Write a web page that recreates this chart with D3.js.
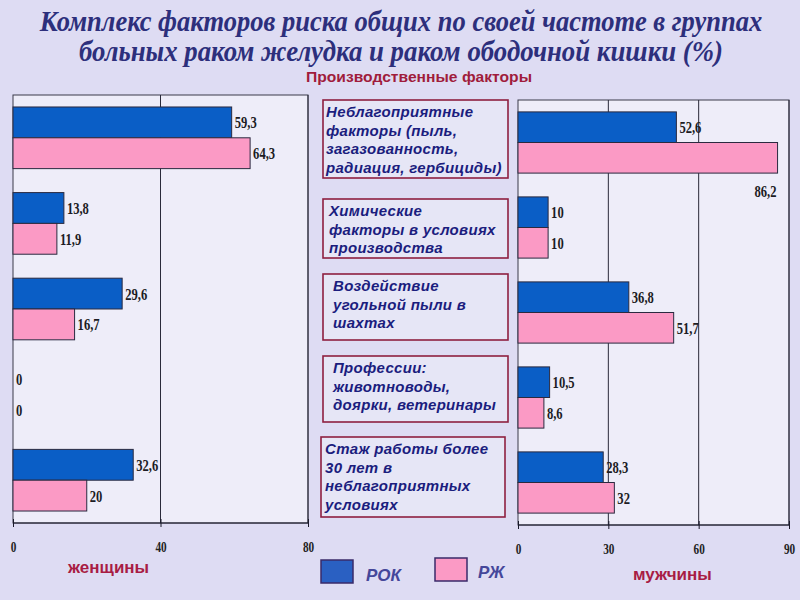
<!DOCTYPE html>
<html>
<head>
<meta charset="utf-8">
<script src="https://cdn.jsdelivr.net/npm/d3@7/dist/d3.min.js"></script>
<style>
  html, body { margin: 0; padding: 0; background: #dedcf3; }
  svg { display: block; }
</style>
</head>
<body>
<svg id="chart" width="800" height="600"></svg>
<script>
// ---------- data ----------
const categories = [
  "Неблагоприятные факторы (пыль, загазованность, радиация, гербициды)",
  "Химические факторы в условиях производства",
  "Воздействие угольной пыли в шахтах",
  "Профессии: животноводы, доярки, ветеринары",
  "Стаж работы более 30 лет в неблагоприятных условиях"
];
const categoryLines = [
  ["Неблагоприятные", "факторы (пыль,", "загазованность,", "радиация, гербициды)"],
  ["Химические", "факторы в условиях", "производства"],
  ["Воздействие", "угольной пыли в", "шахтах"],
  ["Профессии:", "животноводы,", "доярки, ветеринары"],
  ["Стаж работы более", "30 лет в", "неблагоприятных", "условиях"]
];
const seriesNames = ["РОК", "РЖ"];
const womenROK = [59.3, 13.8, 29.6, 0, 32.6];
const womenRZh = [64.3, 11.9, 16.7, 0, 20];
const menROK   = [52.6, 10, 36.8, 10.5, 28.3];
const menRZh   = [86.2, 10, 51.7, 8.6, 32];
const womenTicks = [0, 40, 80];
const menTicks = [0, 30, 60, 90];
const titleLines = [
  "Комплекс факторов риска общих по своей частоте в группах",
  "больных раком желудка и раком ободочной кишки (%)"
];
const subtitle = "Производственные факторы";
const womenLabel = "женщины";
const menLabel = "мужчины";

// ---------- style ----------
const colors = { "РОК": "#0a5ec6", "РЖ": "#fb9ac5" };
const legendColors = { "РОК": "#2a60c2", "РЖ": "#fb9ac5" };
const fmt = v => String(v).replace(".", ",");

const svg = d3.select("#chart");

// title (slightly condensed, taller glyphs via vertical scale)
svg.append("g").selectAll("text").data(titleLines).join("text")
  .attr("transform", (d, i) => `translate(401,${31 + i * 30}) scale(${i === 0 ? 0.965 : 0.975},1.08)`)
  .attr("text-anchor", "middle")
  .attr("font-family", "Liberation Serif, Times New Roman, serif")
  .attr("font-weight", "bold").attr("font-style", "italic")
  .attr("font-size", 27.5).attr("fill", "#2d2f7c")
  .text(d => d);

svg.append("text")
  .attr("x", 419).attr("y", 82).attr("text-anchor", "middle")
  .attr("font-family", "Liberation Sans Narrow, Arial Narrow, Liberation Sans, sans-serif")
  .attr("font-size", 15).attr("font-weight", 600).attr("fill", "#a01c3c")
  .attr("textLength", 226).attr("lengthAdjust", "spacingAndGlyphs")
  .text(subtitle);

// ---------- panels ----------
function panel(cfg) {
  const g = svg.append("g");
  const x = d3.scaleLinear().domain([0, cfg.ticks[cfg.ticks.length - 1]]).range([cfg.x0, cfg.x1]);
  const y = d3.scaleBand().domain(categories).range([cfg.y0, cfg.y1]).paddingInner(0.28).paddingOuter(0.14);
  const y2 = d3.scaleBand().domain(seriesNames).range([0, y.bandwidth()]);

  g.append("rect").attr("x", cfg.x0).attr("y", cfg.y0)
    .attr("width", cfg.x1 - cfg.x0).attr("height", cfg.y1 - cfg.y0)
    .attr("fill", "#eeedf9").attr("stroke", "#3a3a4a").attr("stroke-width", 1);

  // gridlines
  g.append("g").selectAll("line").data(cfg.ticks.slice(1)).join("line")
    .attr("x1", d => x(d)).attr("x2", d => x(d))
    .attr("y1", cfg.y0).attr("y2", cfg.y1)
    .attr("stroke", "#2a2a3a").attr("stroke-width", 1);

  // axis
  const axis = d3.axisBottom(x).tickValues(cfg.ticks).tickSize(6).tickSizeOuter(0).tickFormat(d => d);
  const ax = g.append("g").attr("transform", `translate(0,${cfg.y1})`).call(axis);
  ax.select(".domain").attr("stroke", "#1a1a2a").attr("stroke-width", 1.2).attr("d", `M${cfg.x0},0H${cfg.x1}`);
  ax.selectAll(".tick line").attr("stroke", "#1a1a2a").attr("y1", -4).attr("y2", 4);
  ax.selectAll(".tick text")
    .attr("y", 0).attr("dy", 0)
    .attr("transform", "translate(0,29) scale(0.75,1)")
    .attr("font-family", "Liberation Serif, Times New Roman, serif")
    .attr("font-weight", "bold").attr("font-size", 15).attr("fill", "#222");

  const rows = categories.map((c, i) => ({ c, vals: [cfg.rok[i], cfg.rzh[i]] }));
  const grp = g.append("g").selectAll("g").data(rows).join("g")
    .attr("transform", d => `translate(0,${y(d.c)})`);
  grp.selectAll("rect").data(d => d.vals.map((v, j) => ({ s: seriesNames[j], v }))).join("rect")
    .attr("x", x(0)).attr("y", d => y2(d.s))
    .attr("width", d => x(d.v) - x(0)).attr("height", y2.bandwidth())
    .attr("fill", d => colors[d.s])
    .attr("stroke", d => d.v > 0 ? "#2a2a40" : "none").attr("stroke-width", 1);
  grp.selectAll("text").data(d => d.vals.map((v, j) => ({ s: seriesNames[j], v }))).join("text")
    .attr("transform", d => {
      const endX = x(d.v);
      const fits = endX + 30 < cfg.x1;
      const tx = fits ? endX + 3 : endX - 1;
      const ty = fits ? y2(d.s) + y2.bandwidth() / 2 + 6 : y2(d.s) + y2.bandwidth() + 24;
      return `translate(${tx},${ty}) scale(0.72,1)`;
    })
    .attr("text-anchor", d => x(d.v) + 30 < cfg.x1 ? "start" : "end")
    .attr("font-family", "Liberation Serif, Times New Roman, serif")
    .attr("font-weight", "bold").attr("font-size", 17.5).attr("fill", "#1c1c24")
    .text(d => fmt(d.v));
}

panel({ x0: 13, x1: 308, y0: 95, y1: 523, ticks: womenTicks, rok: womenROK, rzh: womenRZh });
panel({ x0: 518, x1: 789, y0: 100, y1: 525, ticks: menTicks, rok: menROK, rzh: menRZh });

// ---------- category boxes ----------
const boxes = [
  { x: 323, y: 100, w: 185, h: 78, tx: 326 },
  { x: 323, y: 199, w: 185, h: 59, tx: 329 },
  { x: 323, y: 274, w: 185, h: 66, tx: 333 },
  { x: 323, y: 356, w: 185, h: 66, tx: 333 },
  { x: 321, y: 437, w: 184, h: 80, tx: 325 }
];
const bg = svg.append("g").selectAll("g").data(categoryLines).join("g");
bg.append("rect")
  .attr("x", (d, i) => boxes[i].x).attr("y", (d, i) => boxes[i].y)
  .attr("width", (d, i) => boxes[i].w).attr("height", (d, i) => boxes[i].h)
  .attr("fill", "#e6e6f6").attr("stroke", "#8e2040").attr("stroke-width", 1.6);
bg.each(function (lines, i) {
  d3.select(this).selectAll("text").data(lines).join("text")
    .attr("x", boxes[i].tx)
    .attr("y", (d, k) => boxes[i].y + 17 + k * 18.5)
    .attr("font-family", "Liberation Sans, Arial, sans-serif")
    .attr("font-weight", "bold").attr("font-style", "italic")
    .attr("font-size", 15).attr("fill", "#1b1d7e")
    .attr("letter-spacing", 0.3)
    .text(d => d);
});

// ---------- legend ----------
const legendPos = [{ x: 321, y: 560, tx: 366, ty: 581 }, { x: 435, y: 558, tx: 478, ty: 578 }];
const lg = svg.append("g").selectAll("g").data(seriesNames).join("g");
lg.append("rect")
  .attr("x", (d, i) => legendPos[i].x).attr("y", (d, i) => legendPos[i].y)
  .attr("width", 32).attr("height", 23)
  .attr("fill", d => legendColors[d]).attr("stroke", "#3a2a6a").attr("stroke-width", 1.5);
lg.append("text")
  .attr("x", (d, i) => legendPos[i].tx).attr("y", (d, i) => legendPos[i].ty)
  .attr("font-family", "Liberation Sans, Arial, sans-serif")
  .attr("font-weight", "bold").attr("font-style", "italic")
  .attr("font-size", 17).attr("fill", "#45479a")
  .text(d => d);

// group labels
svg.append("text").attr("x", 68).attr("y", 573)
  .attr("font-family", "Liberation Sans, Arial, sans-serif").attr("font-weight", "bold")
  .attr("font-size", 17).attr("fill", "#a81c44").text(womenLabel);
svg.append("text").attr("x", 633).attr("y", 580)
  .attr("font-family", "Liberation Sans, Arial, sans-serif").attr("font-weight", "bold")
  .attr("font-size", 17).attr("fill", "#a81c44").text(menLabel);
</script>
</body>
</html>
